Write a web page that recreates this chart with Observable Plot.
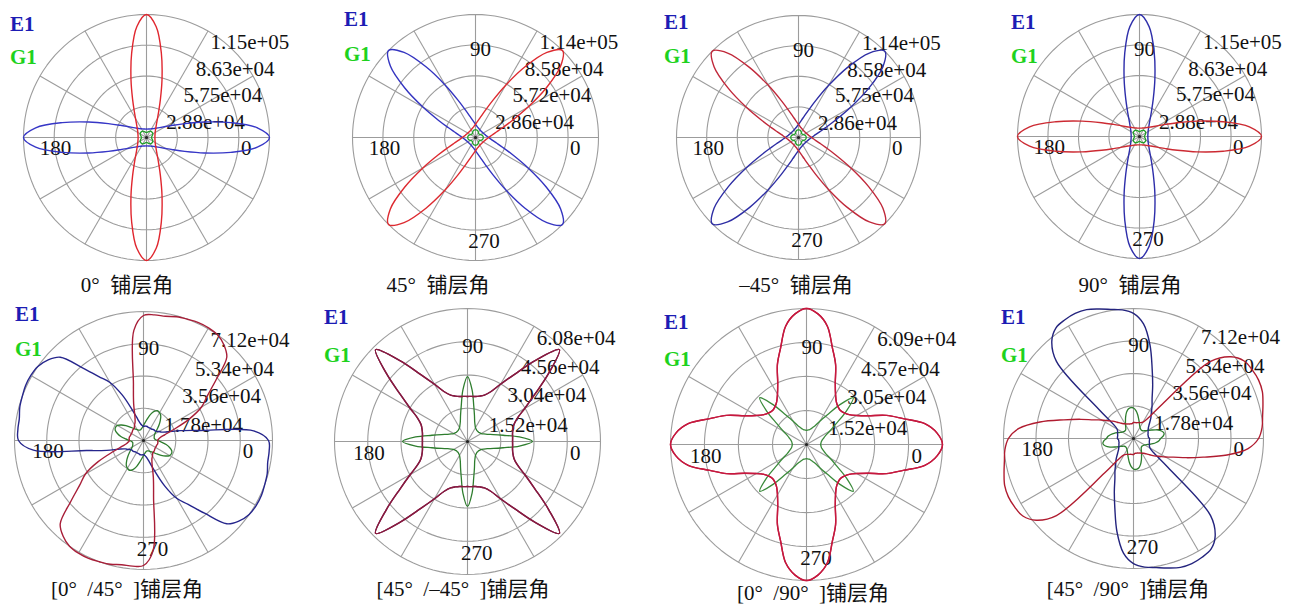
<!DOCTYPE html>
<html><head><meta charset="utf-8">
<script src="https://cdn.jsdelivr.net/npm/d3@7"></script>
<script src="https://cdn.jsdelivr.net/npm/@observablehq/plot@0.6"></script>
<style>
html,body{margin:0;padding:0;background:#fff;}
#root{position:relative;width:1290px;height:604px;overflow:hidden;font-family:"Liberation Serif","Noto Sans CJK SC",serif;}
.plot{position:absolute;}
.lab{position:absolute;font-size:21px;line-height:21px;white-space:pre;font-weight:bold;}
.title{position:absolute;font-size:21px;line-height:21px;white-space:pre;color:#111;transform:translateX(-50%);}
</style></head><body><div id="root"></div>
<script>
// sample angles (deg) for half a turn; every curve is centrosymmetric (E(θ)=E(θ+180°))
const ANG = [0,5,10,15,20,25,30,35,40,45,50,55,60,65,70,75,80,85,90,95,100,105,110,115,120,125,130,135,140,145,150,155,160,165,170,175];

// ---- values in units of 10^3 ----
// panel 1: 0°
const ring1 = [28.8, 57.5, 86.3, 115];
const tick1 = ["2.88e+04","5.75e+04","8.63e+04","1.15e+05"];
const e1_p1 = [115,104,80,56,38,27,20.5,16.5,14,12.3,11,10,9.4,8.9,8.5,8.2,8.0,7.9,7.9,7.9,8.0,8.2,8.5,8.9,9.4,10,11,12.3,14,16.5,20.5,27,38,56,80,104];
const g1_p1 = [4.6,4.7,5.0,5.4,5.9,6.4,6.8,7.0,7.2,7.2,7.2,7.0,6.8,6.4,5.9,5.4,5.0,4.7,4.6,4.7,5.0,5.4,5.9,6.4,6.8,7.0,7.2,7.2,7.2,7.0,6.8,6.4,5.9,5.4,5.0,4.7];
// panel 2: 45°
const ring2 = [28.6, 57.2, 85.8, 114];
const tick2 = ["2.86e+04","5.72e+04","8.58e+04","1.14e+05"];
const e1_p2 = [12.3,11,10,9.4,8.9,8.5,8.2,8.0,7.9,7.9,7.9,8.0,8.2,8.5,8.9,9.4,10,11,12.3,14,16.5,20.5,27,38,56,80,103,114,103,80,56,38,27,20.5,16.5,14];
const g1_p2 = [7.2,7.2,7.0,6.8,6.4,5.9,5.4,5.0,4.7,4.6,4.7,5.0,5.4,5.9,6.4,6.8,7.0,7.2,7.2,7.2,7.0,6.8,6.4,5.9,5.4,5.0,4.7,4.6,4.7,5.0,5.4,5.9,6.4,6.8,7.0,7.2];
// panel 3: -45°
const ring3 = [28.6, 57.2, 85.8, 114];
const tick3 = ["2.86e+04","5.75e+04","8.58e+04","1.14e+05"];
const e1_p3 = [12.3,14,16.5,20.5,27,38,56,80,103,114,103,80,56,38,27,20.5,16.5,14,12.3,11,10,9.4,8.9,8.5,8.2,8.0,7.9,7.9,7.9,8.0,8.2,8.5,8.9,9.4,10,11];
const g1_p3 = [7.2,7.2,7.0,6.8,6.4,5.9,5.4,5.0,4.7,4.6,4.7,5.0,5.4,5.9,6.4,6.8,7.0,7.2,7.2,7.2,7.0,6.8,6.4,5.9,5.4,5.0,4.7,4.6,4.7,5.0,5.4,5.9,6.4,6.8,7.0,7.2];
// panel 4: 90°
const ring4 = [28.8, 57.5, 86.3, 115];
const tick4 = ["2.88e+04","5.75e+04","8.63e+04","1.15e+05"];
const e1_p4 = [7.9,7.9,8.0,8.2,8.5,8.9,9.4,10,11,12.3,14,16.5,20.5,27,38,56,80,104,115,104,80,56,38,27,20.5,16.5,14,12.3,11,10,9.4,8.9,8.5,8.2,8.0,7.9];
const g1_p4 = [4.6,4.7,5.0,5.4,5.9,6.4,6.8,7.0,7.2,7.2,7.2,7.0,6.8,6.4,5.9,5.4,5.0,4.7,4.6,4.7,5.0,5.4,5.9,6.4,6.8,7.0,7.2,7.2,7.2,7.0,6.8,6.4,5.9,5.4,5.0,4.7];
// panel 5: [0°/45°]
const ring5 = [17.8, 35.6, 53.4, 71.2];
const tick5 = ["1.78e+04","3.56e+04","5.34e+04","7.12e+04"];
const e1_p5 = [69,61,32,21,13.8,11,9.9,8.8,8.3,8.3,8.0,7.7,7.7,7.7,7.7,8.0,8.0,8.0,7.7,8.3,9.4,12.1,17.7,27.6,37,43,52.4,65,69,71.2,71.8,71.8,71.2,70.7,69.6,69.6];
const g1_p5 = [7.7,6.6,6.1,6.1,6.3,6.6,7.2,8.3,9.9,12.1,14.4,16.6,17.7,18.2,17.1,14.9,12.1,9.9,8.3,7.2,6.6,6.1,6.1,6.3,6.9,7.7,8.8,10.5,12.7,14.9,16.6,17.1,16.6,14.9,12.7,9.9];
// panel 6: [45°/-45°]
const ring6 = [15.2, 30.4, 45.6, 60.8];
const tick6 = ["1.52e+04","3.04e+04","4.56e+04","6.08e+04"];
const e1_p6 = [20.6,20.7,20.9,21.5,22.6,25.1,30.2,37.5,48.4,59.4,48.4,37.5,30.2,25.1,22.6,21.5,20.9,20.7,20.6,20.7,20.9,21.5,22.6,25.1,30.2,37.5,48.4,59.4,48.4,37.5,30.2,25.1,22.6,21.5,20.9,20.7];
const g1_p6 = [29.7,23.8,16.5,12.3,9.6,8.2,7.3,6.9,6.6,6.6,6.6,6.9,7.3,8.2,9.6,12.3,16.5,23.8,29.7,23.8,16.5,12.3,9.6,8.2,7.3,6.9,6.6,6.6,6.6,6.9,7.3,8.2,9.6,12.3,16.5,23.8];
// panel 7: [0°/90°]
const ring7 = [15.2, 30.5, 45.7, 60.9];
const tick7 = ["1.52e+04","3.05e+04","4.57e+04","6.09e+04"];
const e1_p7 = [60.9,58.7,53.8,44.8,38.1,30.5,26.0,23.3,22.0,21.5,22.0,23.3,26.0,30.5,38.1,44.8,53.8,58.7,60.9,58.7,53.8,44.8,38.1,30.5,26.0,23.3,22.0,21.5,22.0,23.3,26.0,30.5,38.1,44.8,53.8,58.7];
const g1_p7 = [6.3,6.5,6.7,7.2,8.1,9.4,12.1,16.1,23.3,29.6,23.3,16.1,12.1,9.4,8.1,7.2,6.7,6.5,6.3,6.5,6.7,7.2,8.1,9.4,12.1,16.1,23.3,29.6,23.3,16.1,12.1,9.4,8.1,7.2,6.7,6.5];
// panel 8: [45°/90°]
const ring8 = [17.8, 35.6, 53.4, 71.2];
const tick8 = ["1.78e+04","3.56e+04","5.34e+04","7.12e+04"];
const e1_p8 = [8.8,8.2,8.2,8.2,8.5,8.8,9.3,9.9,11,12.6,14.8,17,20.3,24.1,30.7,39.5,52,63,68.5,70.7,71.8,73.4,75.1,75.6,75.1,74,69.6,59.7,24.7,13.2,10.4,9.6,9.3,9.0,8.8,8.8];
const g1_p8 = [14.8,16.4,17,15.9,13.7,11,8.8,7.4,6.6,6.3,6.3,6.6,7.1,7.9,9.3,11,13.2,15.3,16.7,17,16.4,14.8,12.6,10.4,8.8,7.4,6.6,6.3,6.3,6.6,7.1,7.9,9.3,11,12.6,14];

const titles = ["0°  铺层角","45°  铺层角","–45°  铺层角","90°  铺层角","[0°  /45°  ]铺层角","[45°  /–45°  ]铺层角","[0°  /90°  ]铺层角","[45°  /90°  ]铺层角"];
const angleLabels = ["0","90","180","270"];

// ---- layout (page pixels) ----
const panels = [
  {E:e1_p1,G:g1_p1,ring:ring1,tick:tick1,cx:146,cy:137,R:123,w:300,h:280,blue:"#3636c6",red:"#e0262e",green:"#22a02a",hide90:true,
   e1:[10,14],g1:[10,47],title:[127,275]},
  {E:e1_p2,G:g1_p2,ring:ring2,tick:tick2,cx:475,cy:137,R:123,w:300,h:280,blue:"#3434c0",red:"#dd2a30",green:"#22a02a",
   e1:[344,9],g1:[344,44],title:[438,275]},
  {E:e1_p3,G:g1_p3,ring:ring3,tick:tick3,cx:798,cy:137,R:122,w:300,h:280,blue:"#2e2ea4",red:"#c0283a",green:"#22a02a",
   e1:[664,12],g1:[664,46],title:[796,275]},
  {E:e1_p4,G:g1_p4,ring:ring4,tick:tick4,cx:1139,cy:136,R:122,w:300,h:280,blue:"#2e2eaa",red:"#cc2a32",green:"#22a02a",
   e1:[1011,12],g1:[1011,46],title:[1130,275]},
  {E:e1_p5,G:g1_p5,ring:ring5,tick:tick5,cx:143,cy:440,R:129,w:310,h:290,blue:"#26268c",red:"#a81e38",green:"#2e7d2e",
   e1:[15,304],g1:[15,339],title:[127,579]},
  {E:e1_p6,G:g1_p6,ring:ring6,tick:tick6,cx:467,cy:441,R:133,w:310,h:290,blue:"#6a1a50",red:"#8a1a3e",green:"#2e7d2e",
   e1:[324,307],g1:[324,345],title:[463,579]},
  {E:e1_p7,G:g1_p7,ring:ring7,tick:tick7,cx:806,cy:444,R:136,w:310,h:290,blue:"#b0183c",red:"#c8183e",green:"#3a8a3a",
   e1:[664,312],g1:[664,349],title:[813,583]},
  {E:e1_p8,G:g1_p8,ring:ring8,tick:tick8,cx:1133,cy:438,R:130,w:310,h:290,blue:"#24247e",red:"#b01c30",green:"#2e7d2e",
   e1:[1001,307],g1:[1001,345],title:[1128,579]}
];
// label placement as fractions of the outer ring value
const TLX = [0.16, 0.30, 0.40, 0.52], TLY = [0.12, 0.345, 0.555, 0.775];
const ALX = [0.81, 0.04, -0.74, 0.07], ALY = [-0.085, 0.715, -0.085, -0.84];

const root = document.getElementById("root");
const rad = Math.PI/180;

function curvePts(arr, shift){
  const pts = [];
  for (let i = 0; i < 72; i++){
    const th = ANG[i % 36] + (i >= 36 ? 180 : 0);
    const v = arr[(i % 36 + shift) % 36];
    pts.push({x: v*Math.cos(th*rad), y: v*Math.sin(th*rad)});
  }
  return pts;
}

panels.forEach((p, k) => {
  const M = p.ring[3];
  const hx = M*(p.w/2)/p.R, hy = M*(p.h/2)/p.R;
  const ringPts = p.ring.flatMap((v, j) => d3.range(0, 361, 3).map(a => ({ring:j, x:v*Math.cos(a*rad), y:v*Math.sin(a*rad)})));
  const spokes = d3.range(0, 360, 30).map(a => ({x2: M*Math.cos(a*rad), y2: M*Math.sin(a*rad)}));
  const tickData = p.tick.map((t, i) => ({t, x: TLX[i]*M, y: TLY[i]*M}));
  const angData = angleLabels.map((t, i) => ({t, x: ALX[i]*M, y: ALY[i]*M}))
    .filter(d => !(p.hide90 && (d.t === "90" || d.t === "270")));
  const svg = Plot.plot({
    width: p.w, height: p.h, margin: 0,
    x: {domain: [-hx, hx], axis: null},
    y: {domain: [-hy, hy], axis: null},
    style: {overflow: "visible", background: "transparent"},
    marks: [
      Plot.line(ringPts, {x:"x", y:"y", z:"ring", stroke:"#9c9c9c", strokeWidth:1.1}),
      Plot.link(spokes, {x1:0, y1:0, x2:"x2", y2:"y2", stroke:"#9c9c9c", strokeWidth:1.1}),
      Plot.text(tickData, {x:"x", y:"y", text:"t", textAnchor:"start", fontSize:21, fontFamily:"Liberation Serif", fill:"#111"}),
      Plot.text(angData, {x:"x", y:"y", text:"t", fontSize:21, fontFamily:"Liberation Serif", fill:"#111"}),
      Plot.line(curvePts(p.G, 0), {x:"x", y:"y", stroke:p.green, strokeWidth:1.3, curve:"catmull-rom-closed"}),
      Plot.line(curvePts(p.E, 0), {x:"x", y:"y", stroke:p.blue, strokeWidth:1.4, curve:"catmull-rom-closed"}),
      Plot.line(curvePts(p.E, 18), {x:"x", y:"y", stroke:p.red, strokeWidth:1.4, curve:"catmull-rom-closed"}),
      Plot.dot([{x:0,y:0}], {x:"x", y:"y", r:1.6, fill:"#222"})
    ]
  });
  svg.classList.add("plot");
  svg.style.left = (p.cx - p.w/2) + "px";
  svg.style.top = (p.cy - p.h/2) + "px";
  svg.style.position = "absolute";
  root.appendChild(svg);

  const e = document.createElement("div");
  e.className = "lab"; e.textContent = "E1"; e.style.color = "#1c1cb4";
  e.style.left = p.e1[0] + "px"; e.style.top = p.e1[1] + "px";
  root.appendChild(e);
  const g = document.createElement("div");
  g.className = "lab"; g.textContent = "G1"; g.style.color = "#1ed21e";
  g.style.left = p.g1[0] + "px"; g.style.top = p.g1[1] + "px";
  root.appendChild(g);
  const t = document.createElement("div");
  t.className = "title"; t.textContent = titles[k];
  t.style.left = p.title[0] + "px"; t.style.top = p.title[1] + "px";
  root.appendChild(t);
});
</script></body></html>
